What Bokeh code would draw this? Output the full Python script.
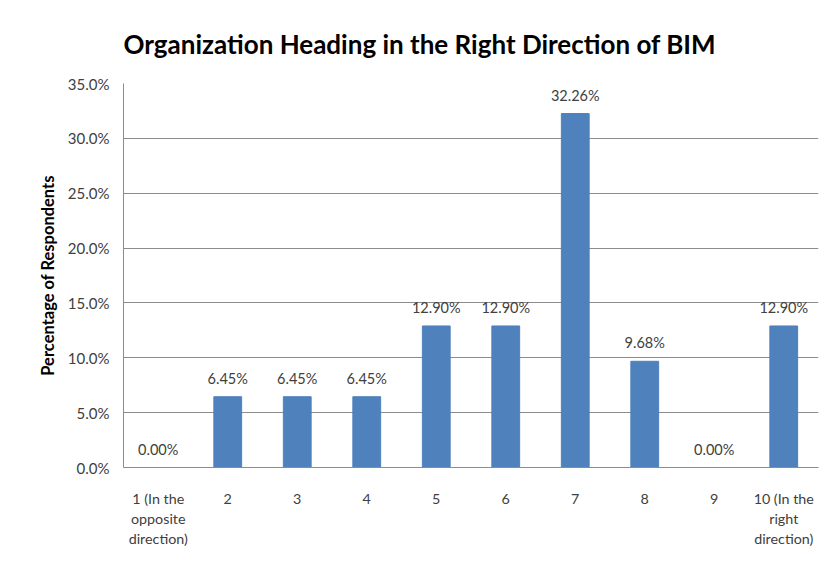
from bokeh.plotting import figure
from bokeh.models import ColumnDataSource, Range1d, FactorRange, PrintfTickFormatter, FixedTicker
from bokeh.core.properties import value
from bokeh.embed import file_html
from bokeh.resources import INLINE

categories = ["1 (In the\nopposite\ndirection)", "2", "3", "4", "5", "6", "7", "8", "9",
              "10 (In the\nright\ndirection)"]
percentages = [0.00, 6.45, 6.45, 6.45, 12.90, 12.90, 32.26, 9.68, 0.00, 12.90]
y_ticks = [0, 5, 10, 15, 20, 25, 30, 35]

labels = ["%.2f%%" % v for v in percentages]
src = ColumnDataSource(dict(cat=categories, val=percentages, lab=labels))

FONT = "Lato"
TXT = "#404040"

p = figure(width=831, height=567, x_range=FactorRange(*categories), y_range=Range1d(0, 35),
           output_backend="svg", toolbar_location=None,
           min_border_left=123, min_border_right=13, min_border_top=83, min_border_bottom=100)

p.title.text = "Organization Heading in the Right Direction of BIM"
p.title.text_font = FONT
p.title.text_font_size = "26px"
p.title.text_font_style = "bold"
p.title.text_color = "#000000"
p.title.align = "left"
p.title.offset = 0
p.title.standoff = 48

p.vbar(x="cat", top="val", width=0.4, source=src, color="#4F81BD")
p.text(x="cat", y="val", text="lab", source=src, text_align="center", text_baseline="bottom",
       y_offset=-10, text_font=value(FONT), text_font_size="14.5px", text_color=TXT)

p.outline_line_color = None
p.background_fill_color = "white"
p.border_fill_color = "white"

p.xgrid.grid_line_color = None
p.ygrid.grid_line_color = "#8c8c8c"
p.ygrid.ticker = FixedTicker(ticks=y_ticks)

p.yaxis.ticker = FixedTicker(ticks=y_ticks)
p.yaxis.formatter = PrintfTickFormatter(format="%.1f%%")
p.yaxis.axis_label = "Percentage of Respondents"
p.yaxis.axis_label_text_font = FONT
p.yaxis.axis_label_text_font_size = "16.5px"
p.yaxis.axis_label_text_font_style = "bold"
p.yaxis.axis_label_text_color = "#000000"
p.yaxis.axis_label_standoff = 7

for ax in (p.xaxis, p.yaxis):
    ax.axis_line_color = "#8c8c8c"
    ax.major_tick_line_color = None
    ax.minor_tick_line_color = None
    ax.major_label_text_font = FONT
    ax.major_label_text_color = TXT

p.yaxis.major_label_text_font_size = "15px"
p.xaxis.major_label_text_font_size = "14.3px"
p.yaxis.major_label_standoff = 8
p.xaxis.major_label_standoff = 16
p.xaxis.major_label_text_line_height = 1.2

open("out.html", "w").write(file_html(p, INLINE))
